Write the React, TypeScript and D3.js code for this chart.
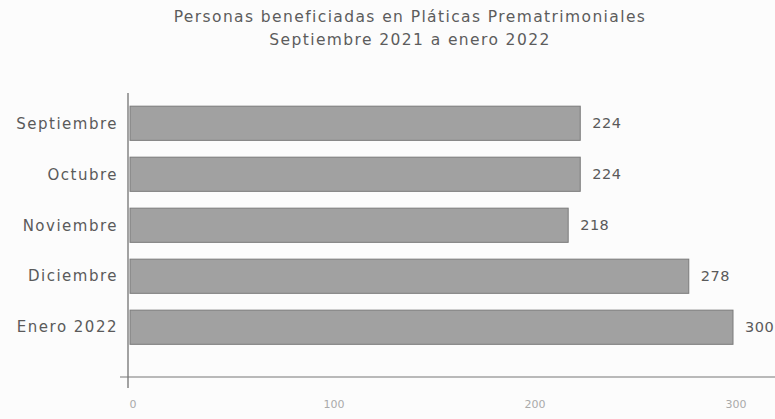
import React from "react";
import * as d3 from "d3";

const categories = ["Septiembre", "Octubre", "Noviembre", "Diciembre", "Enero 2022"];
const values = [224, 224, 218, 278, 300];
const tickValues = [0, 100, 200, 300];
const tickLabels = ["0", "100", "200", "300"];
const titleLines = [
  "Personas beneficiadas en Pláticas Prematrimoniales",
  "Septiembre 2021 a enero 2022",
];

export default function App() {
  const W = 775;
  const H = 419;
  const x = d3.scaleLinear().domain([0, 300]).range([130, 733]);
  const y = d3
    .scaleBand<string>()
    .domain(categories)
    .range([97, 353.5])
    .paddingInner(0.33)
    .paddingOuter(0.18);
  const font = "'DejaVu Sans', sans-serif";
  const axisY = 377;
  return (
    <svg
      width={W}
      height={H}
      style={{ position: "absolute", left: 0, top: 0, background: "#fcfcfc" }}
    >
      <rect x={0} y={0} width={W} height={H} fill="#fcfcfc" />
      {titleLines.map((t, i) => (
        <text
          key={i}
          x={410}
          y={22 + i * 23}
          textAnchor="middle"
          fontFamily={font}
          fontSize={15.5}
          letterSpacing={1.4}
          fill="#5c5c5c"
        >
          {t}
        </text>
      ))}
      {categories.map((c, i) => (
        <g key={c}>
          <rect
            x={x(0)}
            y={y(c)}
            width={x(values[i]) - x(0)}
            height={y.bandwidth()}
            fill="#a1a1a1"
            stroke="#7a7a7a"
            strokeWidth={1}
          />
          <text
            x={118}
            y={(y(c) as number) + y.bandwidth() / 2}
            dy="0.35em"
            textAnchor="end"
            fontFamily={font}
            fontSize={15}
            letterSpacing={1.5}
            fill="#5a5a5a"
          >
            {c}
          </text>
          <text
            x={x(values[i]) + 12}
            y={(y(c) as number) + y.bandwidth() / 2}
            dy="0.35em"
            fontFamily={font}
            fontSize={14.5}
            letterSpacing={0.5}
            fill="#5a5a5a"
          >
            {values[i]}
          </text>
        </g>
      ))}
      <line x1={128} x2={128} y1={93} y2={388} stroke="#666" strokeWidth={1.2} />
      <line x1={120} x2={W} y1={axisY} y2={axisY} stroke="#777" strokeWidth={1.2} />
      {tickValues.map((t, i) => (
        <text
          key={t}
          x={x(t) + 3}
          y={408}
          textAnchor="middle"
          fontFamily={font}
          fontSize={11}
          fill="#aaa"
        >
          {tickLabels[i]}
        </text>
      ))}
    </svg>
  );
}
